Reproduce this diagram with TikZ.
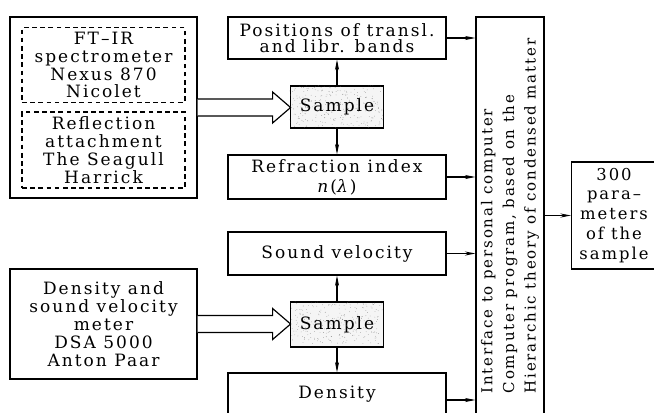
\documentclass[tikz,border=0pt]{standalone}
\usepackage{fontspec}
\setmainfont{DejaVu Serif}[LetterSpace=12]
\usetikzlibrary{calc}
\usetikzlibrary{arrows, arrows.meta, shapes, positioning}
\tikzset{>={Stealth[length=9pt,width=3.5pt]}}
\tikzset{box/.style={draw, align=center, inner sep=2pt},
  dashbox/.style={draw, dash pattern=on 4pt off 3pt, align=center},
  wide/.style={box, minimum width=6.54cm, minimum height=1.26cm},
  sample/.style={draw, fill=black!4, minimum width=2.79cm, minimum height=1.26cm},
  hollow/.style={draw, fill=white}}

\begin{document}
\begin{tikzpicture}[x=0.03cm, y=-0.03cm, line width=1pt, font=\fontsize{14.5}{15.3}\selectfont]
          \clip (0,0) rectangle (654,412);
          % FT-IR side
          \node[box, minimum width=5.61cm, minimum height=5.43cm] (ftbox) at (103.5,107.5) {};
          \node[dashbox, minimum width=4.89cm, minimum height=2.22cm] (ftir) at (103.5,65) {FT--IR\\spectrometer\\Nexus 870\\Nicolet};
          \node[dashbox, minimum width=4.89cm, minimum height=2.28cm] (refl) at (103.5,150) {Reflection\\attachment\\The Seagull\\Harrick};
          \node[sample] (s1) at (337,107) {Sample};
          \node[wide, font=\fontsize{14.5}{13.6}\selectfont] (pos) at (337,38) {Positions of transl.\\and libr. bands};
          \node[wide, minimum height=1.32cm, font=\fontsize{14.5}{17}\selectfont] (refr) at (337,177) {Refraction index\\\textit{n}(\textit{λ})};
          % DSA side
          \node[box, minimum width=5.61cm, minimum height=3.3cm] (dsa) at (103.5,324) {Density and\\sound velocity\\meter\\DSA 5000\\Anton Paar};
          \node[sample, minimum height=1.35cm] (s2) at (337,324.5) {Sample};
          \node[wide, minimum height=1.29cm] (snd) at (337,253.5) {Sound velocity};
          \node[wide, minimum height=1.62cm, text depth=0.45cm] (dens) at (337,400) {Density};
          % computer and result
          \node[box, rotate=90, align=left, minimum width=11.94cm, minimum height=2.04cm, font=\fontsize{12.8}{18.4}\selectfont] (comp) at (510,216) {Interface to personal computer\\Computer program, based on the\\Hierarchic theory of condensed matter};
          \node[box, minimum width=2.55cm, minimum height=3.21cm, font=\fontsize{14}{17}\selectfont] (res) at (614,215.5) {300\\para--\\meters\\of the\\sample};
          \pgfmathsetseed{7}
          \foreach \s in {s1,s2}
            \foreach \i in {1,...,260}
              \fill[black!60] ($(\s.north west)+(rnd*93,rnd*42)$) circle (0.25pt);
          \foreach \b in {ftbox,dsa}
            \draw[hollow] (\b.east) ++(0,-8.5) -- ++(75,0) -- ++(0,-7) -- ++(18,15.5) -- ++(-18,15.5) -- ++(0,-7) -- ++(-75,0);
          \draw[->] (s1.north) -- (pos.south);
          \draw[->] (s1.south) -- (refr.north);
          \draw[->] (s2.north) -- (snd.south);
          \draw[->] (s2.south) -- (dens.north);
          \foreach \b in {pos,refr,snd,dens}
            \draw[->] (\b.east) -- (\b.east -| comp.north);
          \draw[->] (comp.south |- res.west) -- (res.west);
        \end{tikzpicture}
\end{document}
